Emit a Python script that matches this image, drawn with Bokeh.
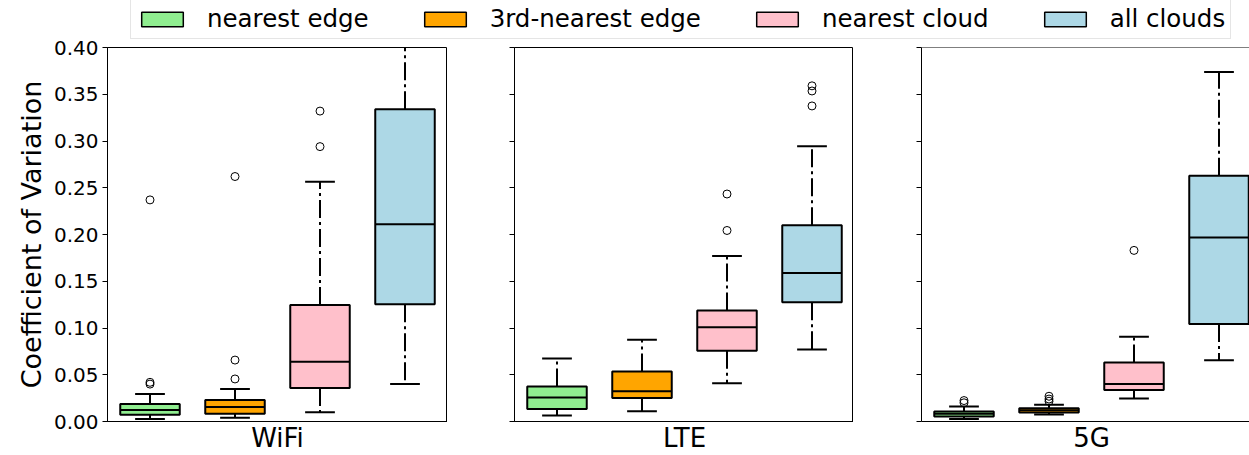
from bokeh.plotting import figure
from bokeh.models import (FixedTicker, PrintfTickFormatter, CustomJSTickFormatter, Legend,
                          LegendItem, Span, Range1d, ColumnDataSource)
from bokeh.layouts import column, row
from bokeh.embed import file_html
from bokeh.resources import INLINE

FONT = "DejaVu Sans"

categories = ["nearest edge", "3rd-nearest edge", "nearest cloud", "all clouds"]
colors = ["#90EE90", "#FFA500", "#FFC0CB", "#ADD8E6"]
networks = ["WiFi", "LTE", "5G"]

wifi_lo = [0.0028, 0.0039, 0.0099, 0.040]
wifi_q1 = [0.0071, 0.0082, 0.0359, 0.1254]
wifi_med = [0.0124, 0.0156, 0.0639, 0.211]
wifi_q3 = [0.0188, 0.0231, 0.1247, 0.334]
wifi_hi = [0.0295, 0.0348, 0.2565, 0.46]
wifi_out = [[0.040, 0.0419, 0.237], [0.0455, 0.0657, 0.262], [0.294, 0.332], []]

lte_lo = [0.0064, 0.011, 0.0409, 0.0771]
lte_q1 = [0.0135, 0.0252, 0.0757, 0.1275]
lte_med = [0.0256, 0.0323, 0.1009, 0.1588]
lte_q3 = [0.0373, 0.0536, 0.1187, 0.210]
lte_hi = [0.0675, 0.0874, 0.1769, 0.2945]
lte_out = [[], [], [0.2043, 0.2433], [0.3375, 0.3535, 0.359]]

g5_lo = [0.0028, 0.0075, 0.0245, 0.0654]
g5_q1 = [0.0053, 0.0096, 0.0337, 0.1044]
g5_med = [0.0082, 0.012, 0.0401, 0.1968]
g5_q3 = [0.0107, 0.0142, 0.0632, 0.2629]
g5_hi = [0.016, 0.0178, 0.0906, 0.3737]
g5_out = [[0.020, 0.0224], [0.0217, 0.024, 0.027], [0.183], []]

y_ticks = [0.0, 0.05, 0.10, 0.15, 0.20, 0.25, 0.30, 0.35, 0.40]

BOX_W = 0.7
CAP_W = 0.35
PX_PER_UNIT = 85.0
X_MID = 2.5
LEG_H = 39


def make_panel(name, lo, q1, med, q3, hi, outs, width, border_left, first, last):
    frame_w = width - border_left
    x_end = 0.5 + frame_w / PX_PER_UNIT
    p = figure(width=width, height=455 - LEG_H, x_range=Range1d(0.5, x_end),
               y_range=Range1d(0, 0.40),
               output_backend="svg", toolbar_location=None,
               min_border_left=border_left, min_border_right=0,
               min_border_top=47 - LEG_H, min_border_bottom=32)
    pos = [i + 1 for i in range(len(categories))]
    src = ColumnDataSource(dict(
        x=pos,
        left=[x - BOX_W / 2 for x in pos], right=[x + BOX_W / 2 for x in pos],
        cl=[x - CAP_W / 2 for x in pos], cr=[x + CAP_W / 2 for x in pos],
        lo=lo, q1=q1, med=med, q3=q3, hi=hi, color=colors))
    dash = "18 4 3 4"
    p.quad(left="left", right="right", bottom="q1", top="q3", fill_color="color",
           line_color="black", line_width=2, source=src)
    p.segment(x0="x", x1="x", y0="q3", y1="hi", line_color="black", line_width=2,
              line_dash=dash, source=src)
    p.segment(x0="x", x1="x", y0="q1", y1="lo", line_color="black", line_width=2,
              line_dash=dash, source=src)
    p.segment(x0="cl", x1="cr", y0="hi", y1="hi", line_color="black", line_width=2, source=src)
    p.segment(x0="cl", x1="cr", y0="lo", y1="lo", line_color="black", line_width=2, source=src)
    p.segment(x0="left", x1="right", y0="med", y1="med", line_color="black", line_width=2,
              source=src)
    ox, oy = [], []
    for i, vals in enumerate(outs):
        for v in vals:
            ox.append(pos[i])
            oy.append(v)
    p.scatter(ox, oy, size=8, fill_color=None, line_color="black", line_width=1)

    p.xgrid.visible = False
    p.ygrid.visible = False

    yax = p.yaxis[0]
    yax.ticker = FixedTicker(ticks=y_ticks)
    yax.major_tick_out = 5
    yax.major_tick_in = 0
    yax.major_tick_line_color = "black"
    yax.minor_tick_line_color = None
    yax.axis_line_color = "black"
    yax.major_label_standoff = 4
    if first:
        yax.formatter = PrintfTickFormatter(format="%.2f")
        yax.major_label_text_font = FONT
        yax.major_label_text_font_size = "20px"
        yax.major_label_text_color = "black"
        yax.axis_label = "Coefficient of Variation"
        yax.axis_label_text_font = FONT
        yax.axis_label_text_font_size = "27px"
        yax.axis_label_text_font_style = "normal"
        yax.axis_label_text_color = "black"
        yax.axis_label_standoff = 4
    else:
        yax.formatter = CustomJSTickFormatter(code="return ''")

    xax = p.xaxis[0]
    xax.ticker = FixedTicker(ticks=[X_MID])
    xax.major_label_overrides = {X_MID: name}
    xax.major_tick_line_color = None
    xax.major_tick_out = 0
    xax.minor_tick_line_color = None
    xax.major_label_standoff = 1
    xax.major_label_text_font = FONT
    xax.major_label_text_font_size = "26px"
    xax.major_label_text_color = "black"
    xax.axis_line_color = "black"

    if last:
        p.outline_line_color = None
        p.add_layout(Span(location=0.40, dimension="width", line_color="black", line_width=1))
    else:
        p.outline_line_color = "black"
        p.outline_line_width = 1
        p.outline_line_alpha = 1
    return p


p1 = make_panel(networks[0], wifi_lo, wifi_q1, wifi_med, wifi_q3, wifi_hi, wifi_out,
                447, 107, True, False)
p2 = make_panel(networks[1], lte_lo, lte_q1, lte_med, lte_q3, lte_hi, lte_out,
                406, 67, False, False)
p3 = make_panel(networks[2], g5_lo, g5_q1, g5_med, g5_q3, g5_hi, g5_out,
                396, 68, False, True)

lf = figure(width=1249, height=LEG_H, x_range=Range1d(0, 1), y_range=Range1d(0, 1),
            output_backend="svg", toolbar_location=None, min_border=0,
            x_axis_location=None, y_axis_location=None)
lf.outline_line_color = None
lf.xgrid.visible = False
lf.ygrid.visible = False
items = []
for cat, c in zip(categories, colors):
    r = lf.quad(left=[2], right=[3], top=[3], bottom=[2], fill_color=c, line_color="black",
                line_width=1.5)
    items.append(LegendItem(label=cat, renderers=[r]))
leg = Legend(items=items, orientation="horizontal", location=(130, 0),
             glyph_width=52, glyph_height=18, label_standoff=19, spacing=50,
             padding=5, margin=0, label_height=25, label_text_font=FONT,
             label_text_font_size="24.5px", label_text_color="black",
             border_line_color="#cccccc", border_line_width=1, background_fill_alpha=1)
lf.add_layout(leg)

layout = column(lf, row(p1, p2, p3, spacing=0), spacing=0)

open("out.html", "w").write(file_html(layout, INLINE))
